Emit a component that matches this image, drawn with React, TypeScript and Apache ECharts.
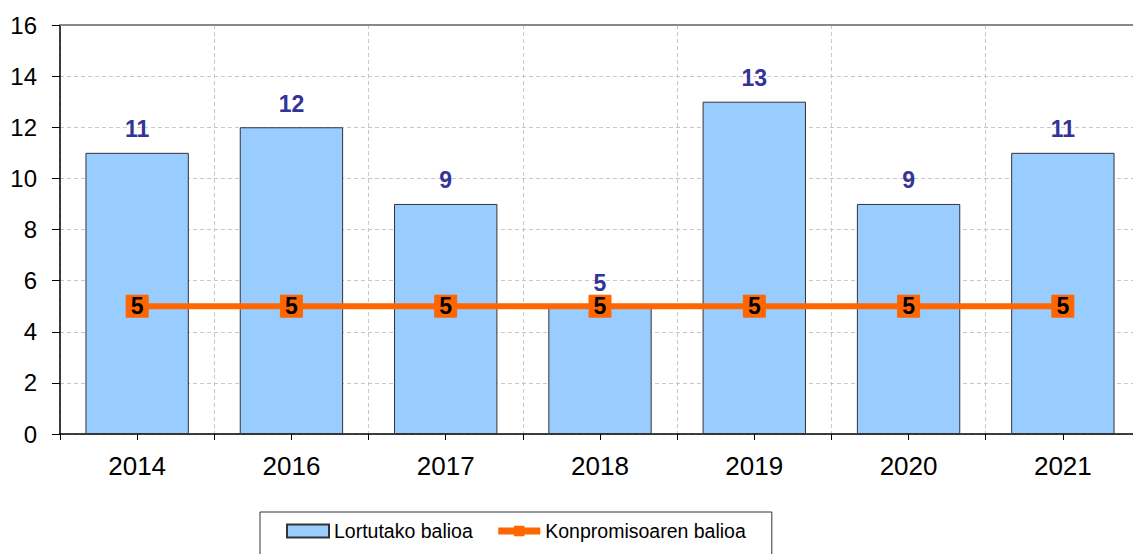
import React, { useEffect, useRef } from "react";
import * as echarts from "echarts";

const years = ["2014", "2016", "2017", "2018", "2019", "2020", "2021"];
const achieved = [11, 12, 9, 5, 13, 9, 11];
const commitment = [5, 5, 5, 5, 5, 5, 5];
const seriesNames = ["Lortutako balioa", "Konpromisoaren balioa"];

const FONT = "'Liberation Sans', Arial, sans-serif";

export default function App() {
  const ref = useRef<HTMLDivElement>(null);
  useEffect(() => {
    const chart = echarts.init(ref.current!, null, { renderer: "svg" });
    chart.setOption({
      animation: false,
      textStyle: { fontFamily: FONT },
      grid: { left: 60, top: 25, width: 1080, bottom: 120, containLabel: false },
      legend: {
        left: 260,
        top: 512,
        padding: [9, 26, 16, 26],
        borderColor: "#333",
        borderWidth: 1,
        itemGap: 22,
        itemWidth: 42,
        itemHeight: 13,
        textStyle: { fontSize: 19.5, color: "#000", fontFamily: FONT },
        lineStyle: { width: 7 },
        data: [
          { name: seriesNames[0], icon: "rect" },
          { name: seriesNames[1] },
        ],
      },
      xAxis: [
        {
          type: "category",
          data: years,
          position: "bottom",
          boundaryGap: true,
          axisLine: { lineStyle: { color: "#000", width: 1.5 } },
          axisTick: { show: true, length: 6, lineStyle: { color: "#000" } },
          axisLabel: { color: "#000", fontSize: 26, margin: 19, fontFamily: FONT },
          splitLine: { show: true, lineStyle: { color: "#c8c8c8", type: [4, 3], width: 1 } },
        },
        {
          type: "category",
          data: years,
          position: "bottom",
          boundaryGap: true,
          axisLine: { show: false },
          axisTick: { show: true, alignWithLabel: true, length: 6, lineStyle: { color: "#000" } },
          axisLabel: { show: false },
          splitLine: { show: false },
        },
        {
          type: "category",
          data: years,
          position: "top",
          axisLine: { show: true, lineStyle: { color: "#888", width: 2 } },
          axisTick: { show: false },
          axisLabel: { show: false },
          splitLine: { show: false },
        },
      ],
      yAxis: {
        type: "value",
        min: 0,
        max: 16,
        interval: 2,
        axisLine: { show: true, lineStyle: { color: "#000", width: 1.5 } },
        axisTick: { show: true, length: 8, lineStyle: { color: "#000" } },
        axisLabel: { color: "#000", fontSize: 24, margin: 23, fontFamily: FONT },
        splitLine: { show: true, lineStyle: { color: "#c8c8c8", type: [4, 3], width: 1 } },
      },
      series: [
        {
          name: seriesNames[0],
          type: "bar",
          xAxisIndex: 0,
          data: achieved,
          barCategoryGap: "33%",
          itemStyle: { color: "#99CCFF", borderColor: "#333", borderWidth: 1 },
          label: {
            show: true,
            position: "top",
            distance: 12,
            color: "#333399",
            fontWeight: "bold",
            fontSize: 23,
            fontFamily: FONT,
          },
          z: 2,
        },
        {
          name: seriesNames[1],
          type: "line",
          xAxisIndex: 0,
          data: commitment,
          symbol: "rect",
          symbolSize: 22,
          lineStyle: { color: "#FF6600", width: 6 },
          itemStyle: { color: "#FF6600", borderColor: "#FF6600" },
          label: {
            show: true,
            position: "inside",
            color: "#000",
            fontWeight: "bold",
            fontSize: 23,
            fontFamily: FONT,
          },
          z: 3,
        },
      ],
    });
    return () => chart.dispose();
  }, []);
  return (
    <div
      style={{
        position: "fixed",
        left: 0,
        top: 0,
        width: 1133,
        height: 554,
        overflow: "hidden",
        background: "#fff",
      }}
    >
      <div ref={ref} style={{ width: 1160, height: 554 }} />
    </div>
  );
}
